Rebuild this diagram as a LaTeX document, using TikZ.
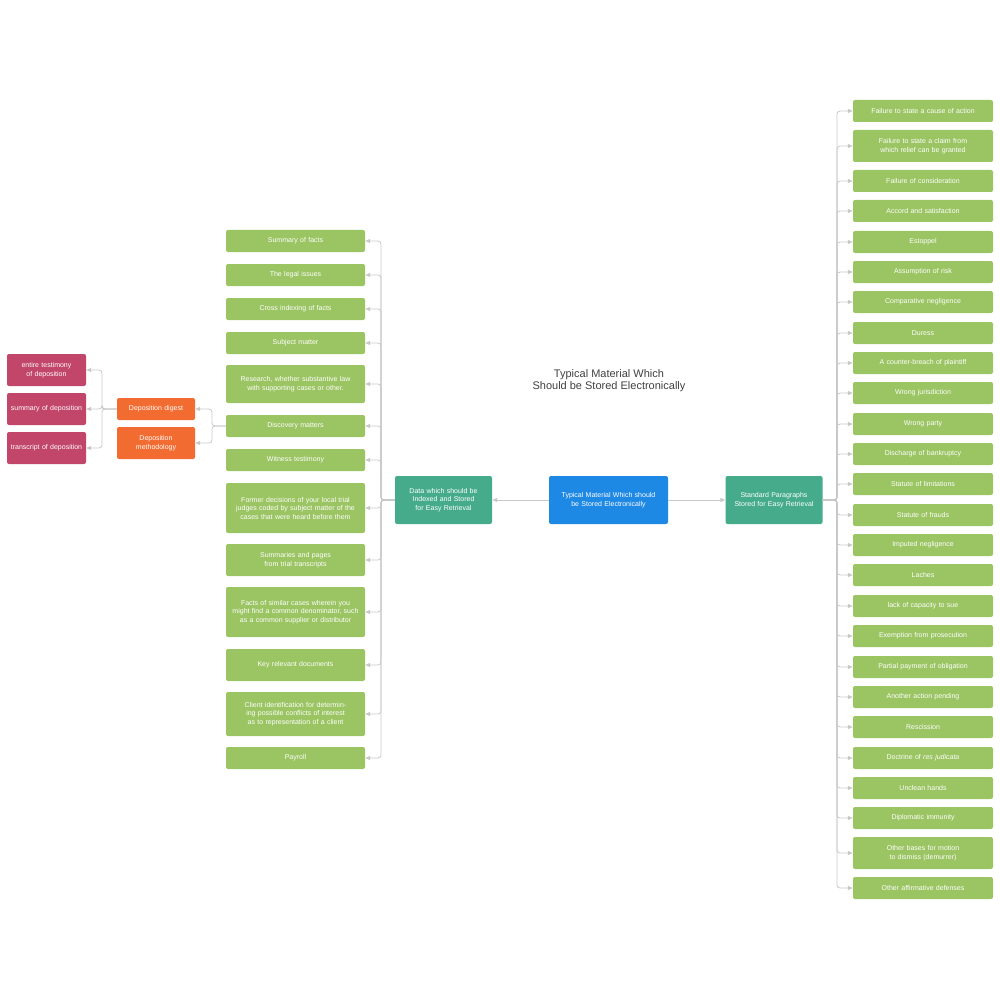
\documentclass[tikz,border=0pt]{standalone}
\usepackage{fontspec}
\setmainfont{Liberation Sans}
\usetikzlibrary{arrows.meta}
\definecolor{gr}{HTML}{9BC462}
\definecolor{te}{HTML}{45AB8A}
\definecolor{bl}{HTML}{1E88E5}
\definecolor{orr}{HTML}{F26B30}
\definecolor{rd}{HTML}{C2456A}
\definecolor{ln}{HTML}{C8C8C8}
\begin{document}
\begin{tikzpicture}[x=1pt,y=-1pt,
 box/.style={draw=none,rounded corners=2pt,text=white,align=center,font=\fontsize{7}{8.5}\selectfont,inner sep=1pt},
 g/.style={box,fill=gr,minimum width=139pt,text width=132pt,minimum height=#1pt},
 g/.default=22,
 r/.style={box,fill=gr,minimum width=140pt,text width=133pt,minimum height=#1pt},
 r/.default=22,
 ed/.style={draw=ln,line width=0.8pt,-{Triangle[length=5pt,width=4pt,fill=ln]},rounded corners=3pt}]
\useasboundingbox (0,0) rectangle (1000,1000);
\node[font=\fontsize{11}{12}\selectfont,text=black!75,align=center] at (609,381) {Typical Material Which\\Should be Stored Electronically};
\node[box,fill=bl,minimum width=119pt,minimum height=48pt,text width=112pt] (c) at (608.5,500) {Typical Material Which should be Stored Electronically};
\node[box,fill=te,minimum width=97pt,minimum height=48pt,text width=90pt] (d) at (443.5,500) {Data which should be Indexed and Stored for Easy Retrieval};
\node[box,fill=te,minimum width=97pt,minimum height=48pt,text width=80pt] (s) at (774,500) {Standard Paragraphs Stored for Easy Retrieval};
\draw[ed] (c) -- (d);
\draw[ed] (c) -- (s);
% right column
\foreach \n/\y/\h/\t in {1/111/22/Failure to state a cause of action,
2/146/32/Failure to state a claim from which relief can be granted,
3/181/22/Failure of consideration,4/211/22/Accord and satisfaction,5/242/22/Estoppel,
6/272/22/Assumption of risk,7/302/22/Comparative negligence,8/333/22/Duress,
9/363/22/A counter-breach of plaintiff,10/393/22/Wrong jurisdiction,11/424/22/Wrong party,
12/454/22/Discharge of bankruptcy,13/484/22/Statute of limitations,14/515/22/Statute of frauds,
15/545/22/Imputed negligence,16/575/22/Laches,17/606/22/lack of capacity to sue,
18/636/22/Exemption from prosecution,19/667/22/Partial payment of obligation,
20/697/22/Another action pending,21/727/22/Rescission,22/758/22/Doctrine of \textit{res judicata},
23/788/22/Unclean hands,24/818/22/Diplomatic immunity,
25/853/32/Other bases for motion to dismiss (demurrer),26/888/22/Other affirmative defenses}{
 \node[r=\h] (r\n) at (923,\y) {\t};
 \draw[ed] (s.east) -| (837,\y) -- (r\n.west);
}
% middle column
\foreach \n/\y/\h/\t in {1/241/22/Summary of facts,2/275/22/The legal issues,3/309/22/Cross indexing of facts,
4/343/22/Subject matter,5/384/38/{Research, whether substantive law with supporting cases or other.},
6/426/22/Discovery matters,7/460/22/Witness testimony,
8/508/50/Former decisions of your local trial judges coded by subject matter of the cases that were heard before them,
9/560/32/Summaries and pages from trial transcripts,
10/612/50/{Facts of similar cases wherein you might find a common denominator, such as a common supplier or distributor},
11/665/32/Key relevant documents,
12/714/44/Client identification for determining possible conflicts of interest as to representation of a client,
13/758/22/Payroll/accounting data}{
 \node[g=\h] (m\n) at (295.5,\y) {\t};
 \draw[ed] (d.west) -| (381,\y) -- (m\n.east);
}
% orange
\node[box,fill=orr,minimum width=78pt,minimum height=22pt,text width=72pt] (o1) at (156,409) {Deposition digest};
\node[box,fill=orr,minimum width=78pt,minimum height=32pt,text width=60pt] (o2) at (156,443) {Deposition methodology};
\draw[ed] (m6.west) -| (212,409) -- (o1.east);
\draw[ed] (m6.west) -| (212,443) -- (o2.east);
% red
\foreach \n/\y/\t in {1/370/entire testimony of deposition,2/409/summary of deposition,3/448/transcript of deposition}{
 \node[box,fill=rd,minimum width=79pt,minimum height=32pt,text width=72pt] (p\n) at (46.5,\y) {\t};
 \draw[ed] (o1.west) -| (102,\y) -- (p\n.east);
}
\end{tikzpicture}
\end{document}
